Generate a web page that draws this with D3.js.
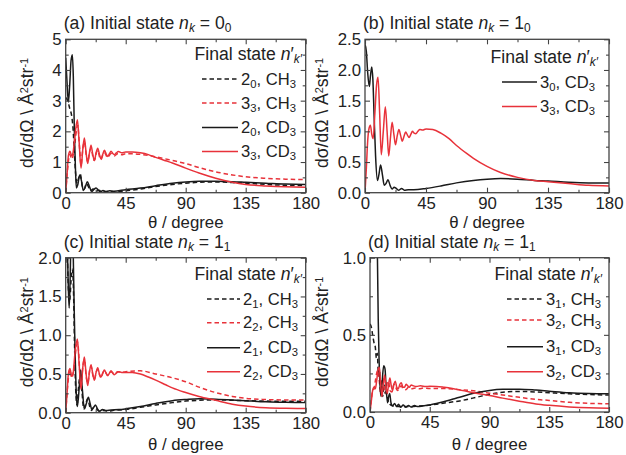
<!DOCTYPE html>
<html><head><meta charset="utf-8">
<script src="https://cdn.jsdelivr.net/npm/d3@7"></script>
<style>
body{margin:0;background:#fff}
svg{display:block}
text{font-family:"Liberation Sans",Arial,Helvetica,sans-serif;fill:#222}
</style>
</head><body>
<svg id="chart" width="626" height="455"></svg>
<script>
// ---------------- DATA ----------------
const xTickValues = [0, 45, 90, 135, 180];
const xTickMinor = [22.5, 67.5, 112.5, 157.5];
const xLabel = "θ / degree";

// Panel (a): initial state 0_0
const a_20_CH3 = [[0,3.1],[1.5,3.0],[3,2.75],[4.5,2.5],[5.5,2.1],[6.5,1.3],[7.5,0.6],[8.5,0.3],[9.5,0.45],[11,0.6],[12.5,0.2],[14,0.12],[15.5,0.3],[17,0.2],[18.5,0.06],[20.5,0.12],[22.5,0.04],[25,0.08],[28,0.02],[32,0.04],[36,0.03],[45,0.06],[56,0.12],[67.5,0.2],[80,0.27],[90,0.31],[100,0.34],[112.5,0.35],[125,0.33],[135,0.31],[150,0.27],[165,0.24],[180,0.23]];
const a_33_CH3 = [[0,0],[1.5,0.8],[3,1.25],[4.5,1.1],[6,1.3],[8,2.0],[9,2.2],[10.5,1.4],[11.5,0.9],[13,1.5],[14,1.65],[15.5,1.2],[16.5,1.0],[18,1.35],[19,1.45],[20.5,1.15],[21.5,1.05],[23,1.3],[24,1.38],[25.5,1.15],[26.5,1.08],[28,1.25],[29,1.3],[31.5,1.15],[34,1.28],[36.5,1.2],[39,1.27],[42,1.24],[45,1.27],[50,1.27],[56,1.25],[67.5,1.17],[80,1.05],[90,0.95],[100,0.82],[112.5,0.68],[125,0.58],[135,0.52],[150,0.47],[165,0.44],[180,0.43]];
const a_20_CD3 = [[0,4.4],[1,3.6],[2,2.95],[3,3.5],[4,4.3],[5,4.5],[5.7,3.8],[6.5,2.0],[7.3,0.8],[8,0.15],[9,0.25],[10.5,0.58],[12,0.35],[13.2,0.07],[14.8,0.2],[16.2,0.36],[17.8,0.2],[19.5,0.04],[21,0.1],[22.8,0.15],[24.5,0.08],[26,0.03],[28,0.07],[30,0.04],[33,0.06],[36,0.05],[45,0.1],[56,0.15],[67.5,0.23],[80,0.31],[90,0.35],[100,0.37],[112.5,0.37],[125,0.36],[135,0.34],[150,0.31],[165,0.28],[180,0.27]];
const a_33_CD3 = [[0,0],[1,0.6],[2,1.2],[3.2,1.35],[4.5,1.2],[5.5,1.3],[7,1.9],[8.8,2.38],[10,1.7],[11.5,0.8],[12.8,1.4],[14,1.78],[15.3,1.3],[16.5,0.95],[17.8,1.3],[19,1.55],[20.3,1.25],[21.5,1.05],[22.8,1.3],[24,1.45],[25.3,1.25],[26.5,1.1],[27.8,1.25],[29,1.38],[30.3,1.27],[31.5,1.18],[32.8,1.27],[34,1.35],[35.3,1.28],[36.5,1.24],[38,1.3],[39.5,1.34],[42,1.3],[45,1.33],[50,1.33],[56,1.3],[62,1.24],[67.5,1.15],[75,1.04],[80,0.97],[90,0.8],[100,0.64],[112.5,0.47],[125,0.34],[135,0.27],[150,0.22],[165,0.19],[180,0.18]];

// Panel (b): initial state 1_0
const b_30_CD3 = [[0,2.42],[1,2.3],[2,1.95],[3.2,1.73],[4,1.9],[5,2.05],[5.8,1.85],[6.8,1.2],[7.8,0.6],[9.2,0.2],[10.3,0.3],[11.5,0.45],[12.8,0.3],[14.2,0.12],[15.5,0.15],[17,0.21],[18.5,0.12],[20,0.06],[21.5,0.09],[23,0.07],[25,0.04],[27,0.07],[29,0.04],[32,0.05],[36,0.05],[45,0.07],[56,0.11],[67.5,0.16],[80,0.2],[90,0.22],[100,0.23],[112.5,0.22],[125,0.2],[135,0.19],[150,0.17],[165,0.16],[180,0.16]];
const b_33_CD3 = [[0,0],[1,0.4],[2,0.85],[3,1.05],[4,1.1],[5,0.95],[6,0.88],[7.3,1.3],[8.5,1.75],[9.6,1.88],[10.8,1.3],[12,0.62],[13.5,1.0],[15,1.4],[16.3,1.0],[17.5,0.6],[18.8,0.9],[20,1.15],[21.3,0.95],[22.5,0.78],[23.8,0.93],[25,1.03],[26.3,0.93],[27.5,0.84],[28.8,0.92],[30,0.99],[31.3,0.94],[32.5,0.9],[33.8,0.95],[35,1.0],[36.3,0.97],[37.5,0.96],[39,1.0],[40.5,1.03],[42.5,1.02],[45,1.04],[50,1.03],[56,0.97],[62,0.88],[67.5,0.77],[75,0.64],[80,0.56],[90,0.43],[100,0.33],[112.5,0.25],[125,0.2],[135,0.18],[150,0.15],[165,0.12],[180,0.11]];

// Panel (c): initial state 1_1
const c_21_CH3 = [[0,2.6],[1,2.2],[2,1.6],[3,1.45],[4,1.7],[5,1.85],[5.8,1.6],[6.6,0.9],[7.5,0.3],[8.5,0.1],[9.5,0.3],[11,0.5],[12.3,0.25],[13.5,0.05],[15,0.12],[16.5,0.18],[18,0.08],[19.5,0.03],[21,0.07],[23,0.05],[25,0.02],[28,0.03],[32,0.02],[36,0.03],[45,0.04],[56,0.07],[67.5,0.1],[80,0.13],[90,0.15],[100,0.16],[112.5,0.165],[125,0.16],[135,0.155],[150,0.15],[165,0.148],[180,0.147]];
const c_22_CH3 = [[0,0],[1.5,0.35],[3,0.55],[4.5,0.45],[6,0.55],[8,0.85],[9,0.9],[10.5,0.55],[11.5,0.35],[13,0.62],[14,0.68],[15.5,0.45],[16.5,0.38],[18,0.55],[19,0.6],[20.5,0.47],[21.5,0.43],[23,0.53],[24,0.56],[25.5,0.48],[26.5,0.45],[28,0.52],[29,0.54],[31.5,0.48],[34,0.53],[36.5,0.5],[39,0.53],[42,0.52],[45,0.53],[56,0.54],[67.5,0.5],[80,0.45],[90,0.4],[100,0.33],[112.5,0.26],[125,0.21],[135,0.185],[150,0.17],[165,0.165],[180,0.165]];
const c_21_CD3 = [[0,2.8],[1,2.3],[2,1.6],[2.6,1.35],[3.3,1.7],[4,2.3],[5,2.6],[5.5,2.2],[6.2,1.5],[7,0.8],[7.8,0.3],[8.7,0.08],[9.8,0.25],[11.2,0.55],[12.5,0.3],[14,0.05],[15.5,0.12],[17,0.2],[18.3,0.12],[19.6,0.04],[21,0.07],[22.3,0.1],[23.8,0.05],[25.5,0.02],[27.5,0.04],[30,0.03],[34,0.035],[40,0.04],[45,0.05],[56,0.08],[67.5,0.12],[80,0.155],[90,0.17],[100,0.18],[112.5,0.175],[125,0.165],[135,0.155],[150,0.14],[165,0.135],[180,0.13]];
const c_22_CD3 = [[0,0],[1,0.25],[2,0.5],[3.2,0.57],[4.5,0.47],[5.5,0.5],[7,0.78],[8.8,0.95],[10,0.65],[11.5,0.3],[12.8,0.58],[14,0.72],[15.3,0.5],[16.5,0.35],[17.8,0.52],[19,0.62],[20.3,0.5],[21.5,0.42],[22.8,0.52],[24,0.58],[25.3,0.5],[26.5,0.46],[27.8,0.51],[29,0.55],[30.3,0.51],[31.5,0.48],[32.8,0.51],[34,0.54],[35.3,0.51],[36.5,0.49],[38,0.51],[39.5,0.53],[42,0.52],[45,0.52],[50,0.52],[56,0.5],[62,0.46],[67.5,0.42],[75,0.36],[80,0.32],[90,0.26],[100,0.21],[112.5,0.16],[125,0.11],[135,0.085],[150,0.065],[165,0.057],[180,0.055]];

// Panel (d): initial state 1_1
const d_31_CH3 = [[0,0.57],[1,0.55],[2,0.5],[3,0.45],[4,0.42],[4.8,0.35],[5.5,0.38],[6.3,0.25],[7,0.28],[7.8,0.15],[8.7,0.2],[9.5,0.1],[10.5,0.18],[11.5,0.12],[12.5,0.15],[13.5,0.08],[15,0.05],[17,0.04],[20,0.035],[25,0.035],[30,0.035],[36,0.038],[45,0.045],[56,0.058],[67.5,0.072],[80,0.095],[90,0.115],[100,0.128],[112.5,0.133],[125,0.13],[135,0.125],[150,0.118],[165,0.113],[180,0.11]];
const d_32_CH3 = [[0,0],[1,0.08],[2,0.14],[3,0.15],[4,0.2],[5,0.25],[6,0.27],[7,0.2],[8,0.12],[9,0.2],[10,0.22],[11,0.14],[12,0.12],[13,0.19],[14,0.2],[15,0.14],[16.5,0.13],[18,0.18],[19,0.17],[20.5,0.14],[22,0.15],[23.5,0.17],[25,0.15],[27,0.145],[29,0.16],[31,0.15],[34,0.155],[37,0.15],[40,0.155],[45,0.152],[50,0.153],[56,0.152],[67.5,0.145],[80,0.135],[90,0.122],[100,0.11],[112.5,0.095],[125,0.082],[135,0.075],[150,0.063],[165,0.056],[180,0.053]];
const d_31_CD3 = [[0,3.5],[2,3.0],[4,2.2],[5,1.6],[5.6,1.0],[6.2,0.6],[6.8,0.35],[7.5,0.18],[8.3,0.1],[9.2,0.2],[10.3,0.3],[11.3,0.28],[12.2,0.15],[13.2,0.06],[14,0.1],[14.8,0.12],[15.8,0.06],[17,0.04],[18.5,0.055],[20,0.035],[21.5,0.05],[23,0.03],[25,0.045],[27,0.03],[29,0.042],[31,0.032],[33.5,0.042],[36,0.035],[40,0.04],[45,0.046],[50,0.055],[56,0.068],[62,0.082],[67.5,0.095],[75,0.115],[80,0.125],[90,0.14],[100,0.147],[112.5,0.148],[125,0.142],[135,0.135],[150,0.125],[165,0.12],[180,0.118]];
const d_32_CD3 = [[0,0],[1,0.07],[2,0.14],[3,0.16],[4,0.15],[5,0.2],[6,0.27],[7,0.29],[8,0.18],[9,0.1],[10,0.18],[11,0.24],[12,0.17],[13,0.12],[14,0.18],[15,0.22],[16,0.17],[17,0.14],[18,0.18],[19,0.2],[20.2,0.16],[21.3,0.15],[22.5,0.18],[23.6,0.19],[24.8,0.16],[26,0.16],[27.2,0.18],[28.4,0.17],[29.6,0.16],[31,0.175],[32.5,0.17],[35,0.165],[38,0.17],[42,0.165],[45,0.167],[50,0.166],[56,0.16],[62,0.152],[67.5,0.143],[75,0.13],[80,0.122],[90,0.107],[100,0.09],[112.5,0.07],[125,0.052],[135,0.043],[150,0.033],[165,0.027],[180,0.025]];

// y ticks
const aYTicks = [0,1,2,3,4,5];
const bYTicks = [0,0.5,1.0,1.5,2.0,2.5];
const cYTicks = [0,0.5,1.0,1.5,2.0];
const dYTicks = [0,0.5,1.0];

// legend labels: [number, sub, molecule]
const aLegend = [["2","0","CH"],["3","3","CH"],["2","0","CD"],["3","3","CD"]];
const bLegend = [["3","0","CD"],["3","3","CD"]];
const cLegend = [["2","1","CH"],["2","2","CH"],["2","1","CD"],["2","2","CD"]];
const dLegend = [["3","1","CH"],["3","2","CH"],["3","1","CD"],["3","2","CD"]];
const titles = [["a","0","0"],["b","1","0"],["c","1","1"],["d","1","1"]];

// ---------------- DRAW ----------------
const RED = "#e8323a", BLACK = "#1a1a1a";
const svg = d3.select("#chart");
const FS = 16.8, FT = 17.6, FL = 16.6, FX = 16.8;

function rich(g, parts, size) {
  parts.forEach(([t, m]) => {
    const ts = g.append("tspan").text(t);
    if (m === "i" || m === "isub") ts.attr("font-style", "italic");
    if (m === "sub" || m === "isub") ts.attr("baseline-shift", "-28%").attr("font-size", size * 0.68);
    if (m === "sup") ts.attr("baseline-shift", "45%").attr("font-size", size * 0.62);
  });
}

const panels = [
  {key:"a", x0:65.7, x1:305.7, top:39.3, bot:192.7, yTicks:aYTicks, fmt:d3.format("d"),
   series:[[a_20_CH3,BLACK,true],[a_33_CH3,RED,true],[a_20_CD3,BLACK,false],[a_33_CD3,RED,false]],
   legend:aLegend, title:titles[0], titleY:28.5, leg:{right:302, ty:60, lx0:202, lx1:238, tx:241, rows:[79,103,127.5,151.5]},
   xlY:228, ylX:33},
  {key:"b", x0:365, x1:609, top:39.3, bot:192.7, yTicks:bYTicks, fmt:d3.format(".1f"),
   series:[[b_30_CD3,BLACK,false],[b_33_CD3,RED,false]],
   legend:bLegend, title:titles[1], titleY:28.5, leg:{right:598, ty:63, lx0:502, lx1:537, tx:540, rows:[82,106.5]},
   xlY:228, ylX:328},
  {key:"c", x0:65.7, x1:305.7, top:257.7, bot:412.7, yTicks:cYTicks, fmt:d3.format(".1f"),
   series:[[c_21_CH3,BLACK,true],[c_22_CH3,RED,true],[c_21_CD3,BLACK,false],[c_22_CD3,RED,false]],
   legend:cLegend, title:titles[2], titleY:248.2, leg:{right:302, ty:280, lx0:207, lx1:240, tx:243, rows:[299,322.7,347.7,371.7]},
   xlY:450, ylX:33},
  {key:"d", x0:370, x1:609, top:257.7, bot:412, yTicks:dYTicks, fmt:d3.format(".1f"),
   series:[[d_31_CH3,BLACK,true],[d_32_CH3,RED,true],[d_31_CD3,BLACK,false],[d_32_CD3,RED,false]],
   legend:dLegend, title:titles[3], titleY:248.2, leg:{right:602, ty:280, lx0:507, lx1:543, tx:546, rows:[299,320,346.7,371.7]},
   xlY:449.5, ylX:328}
];

const defs = svg.append("defs");

panels.forEach(p => {
  const x = d3.scaleLinear().domain([0,180]).range([p.x0, p.x1]);
  const yMax = p.yTicks[p.yTicks.length-1];
  const y = d3.scaleLinear().domain([0, yMax]).range([p.bot, p.top]);
  const step = p.yTicks[1] - p.yTicks[0];
  const yMinor = p.yTicks.slice(0,-1).map(v => v + step/2);
  const g = svg.append("g");

  defs.append("clipPath").attr("id","clip-"+p.key)
    .append("rect").attr("x",p.x0).attr("y",p.top).attr("width",p.x1-p.x0).attr("height",p.bot-p.top);

  const line = d3.line().x(d=>x(d[0])).y(d=>y(d[1])).curve(d3.curveMonotoneX);
  const lg = g.append("g").attr("clip-path","url(#clip-"+p.key+")");
  p.series.forEach(([data,col,dash]) => {
    lg.append("path").attr("d", line(data)).attr("fill","none")
      .attr("stroke",col).attr("stroke-width",1.5)
      .attr("stroke-dasharray", dash ? "4.5,3" : null)
      .attr("stroke-linejoin","round");
  });

  const styleAxis = s => { s.select(".domain").remove(); s.selectAll("line").attr("stroke","#444").attr("stroke-width",1.1);
    s.selectAll("text").attr("font-size",FS).attr("fill","#222").attr("font-family","'Liberation Sans',Arial,sans-serif"); };
  g.append("g").attr("transform",`translate(0,${p.bot})`)
    .call(d3.axisBottom(x).tickValues(xTickValues).tickSize(-5).tickPadding(4.5).tickFormat(d3.format("d"))).call(styleAxis);
  g.append("g").attr("transform",`translate(0,${p.bot})`)
    .call(d3.axisBottom(x).tickValues(xTickMinor).tickSize(-3).tickFormat("")).call(styleAxis);
  g.append("g").attr("transform",`translate(0,${p.top})`)
    .call(d3.axisTop(x).tickValues(xTickValues).tickSize(-5).tickFormat("")).call(styleAxis);
  g.append("g").attr("transform",`translate(0,${p.top})`)
    .call(d3.axisTop(x).tickValues(xTickMinor).tickSize(-3).tickFormat("")).call(styleAxis);
  g.append("g").attr("transform",`translate(${p.x0},0)`)
    .call(d3.axisLeft(y).tickValues(p.yTicks).tickSize(-5).tickPadding(4).tickFormat(p.fmt)).call(styleAxis);
  g.append("g").attr("transform",`translate(${p.x0},0)`)
    .call(d3.axisLeft(y).tickValues(yMinor).tickSize(-3).tickFormat("")).call(styleAxis);
  g.append("g").attr("transform",`translate(${p.x1},0)`)
    .call(d3.axisRight(y).tickValues(p.yTicks).tickSize(-5).tickFormat("")).call(styleAxis);
  g.append("g").attr("transform",`translate(${p.x1},0)`)
    .call(d3.axisRight(y).tickValues(yMinor).tickSize(-3).tickFormat("")).call(styleAxis);

  g.append("rect").attr("x",p.x0).attr("y",p.top).attr("width",p.x1-p.x0).attr("height",p.bot-p.top)
    .attr("fill","none").attr("stroke","#444").attr("stroke-width",1.3);

  // title
  const [L, n1, n2] = p.title;
  const t = g.append("text").attr("x", p.x0 - 2).attr("y", p.titleY).attr("font-size", FT);
  rich(t, [[`(${L}) Initial state `,""],["n","i"],["k","isub"],[` = ${n1}`,""],[n2,"sub"]], FT);

  // x label
  g.append("text").attr("x",(p.x0+p.x1)/2).attr("y",p.xlY).attr("text-anchor","middle")
    .attr("font-size",FX).text(xLabel);

  // y label
  const yl = g.append("text").attr("transform",`translate(${p.ylX},${(p.top+p.bot)/2 - 3}) rotate(-90)`)
    .attr("text-anchor","middle").attr("font-size",FT);
  rich(yl, [["dσ/dΩ \\ Å",""],["2","sup"],["str",""],["-1","sup"]], FT);

  // legend
  const lt = g.append("text").attr("x",p.leg.right).attr("y",p.leg.ty).attr("text-anchor","end").attr("font-size",FT);
  rich(lt, [["Final state ",""],["n","i"],["′",""],["k′","isub"]], FT);
  p.legend.forEach((lab, i) => {
    const [col, dash] = [p.series[i][1], p.series[i][2]];
    const yy = p.leg.rows[i];
    g.append("line").attr("x1",p.leg.lx0).attr("x2",p.leg.lx1).attr("y1",yy).attr("y2",yy)
      .attr("stroke",col).attr("stroke-width",1.5).attr("stroke-dasharray",dash?"4.5,3":null);
    const tx = g.append("text").attr("x",p.leg.tx).attr("y",yy+5.5).attr("font-size",FL);
    rich(tx, [[lab[0],""],[lab[1],"sub"],[", "+lab[2],""],["3","sub"]], FL);
  });
});
</script>
</body></html>
